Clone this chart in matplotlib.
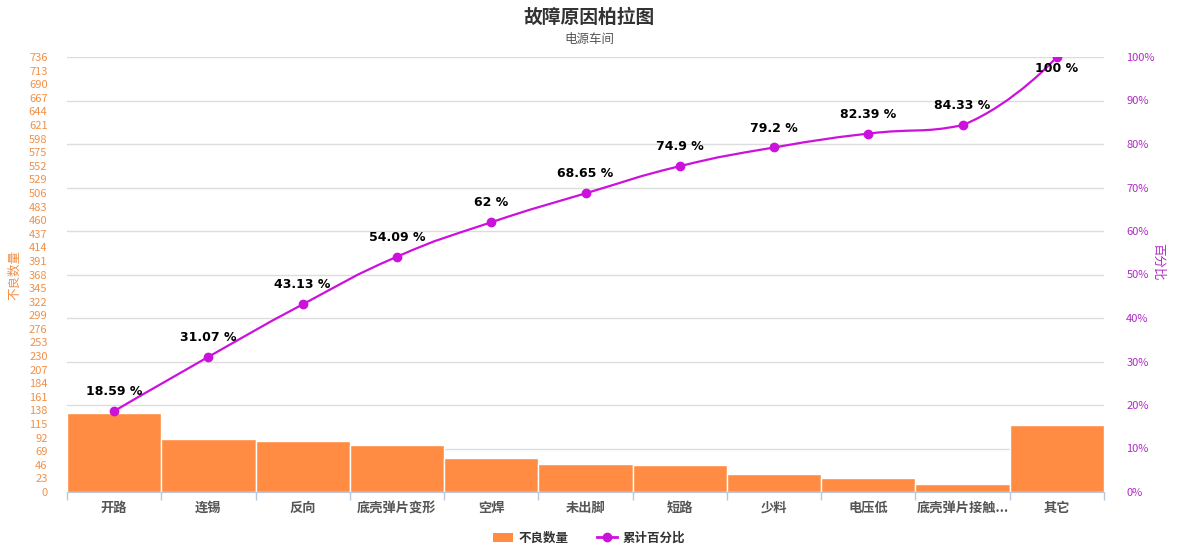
import numpy as np
import matplotlib
matplotlib.use("Agg")
import matplotlib.pyplot as plt
from matplotlib.path import Path
from matplotlib.patches import PathPatch, Patch
from matplotlib.lines import Line2D

plt.rcParams['font.family'] = ['Noto Sans CJK SC', 'DejaVu Sans']

categories = ['开路', '连锡', '反向', '底壳弹片变形', '空焊', '未出脚', '短路', '少料', '电压低', '底壳弹片接触...', '其它']
counts = [134, 90, 87, 79, 57, 48, 45, 31, 23, 14, 113]
cum_pct = [18.59, 31.07, 43.13, 54.09, 62, 68.65, 74.9, 79.2, 82.39, 84.33, 100]
left_ticks = list(range(0, 737, 23))
right_ticks = list(range(0, 101, 10))

bar_color = '#FF8C42'
line_color = '#CC11DD'
left_color = '#F0904A'
right_color = '#B028C8'
axis_color = '#B8C8D8'

fig = plt.figure(figsize=(11.78, 5.56), dpi=100)
ax = fig.add_axes([67 / 1178, 1 - 492 / 556, (1104 - 67) / 1178, (492 - 57) / 556])
ax2 = ax.twinx()

x = np.arange(len(categories))
ax.bar(x, counts, width=1.0, color=bar_color, edgecolor='white', linewidth=1, zorder=2)
ax.set_xlim(-0.5, len(categories) - 0.5)
ax.set_ylim(0, 736)
ax.set_yticks(left_ticks)
ax.tick_params(axis='y', length=0, pad=14, labelcolor=left_color, labelsize=8)
ax.set_xticks(x)
ax.set_xticklabels([])
ax.tick_params(axis='x', length=0)
# category names on a shared baseline under the axis
for xi, name in zip(x, categories):
    ax.annotate(name, (xi, 0), xycoords=('data', 'axes fraction'), xytext=(0, -14.5),
                textcoords='offset points', ha='center', va='baseline',
                fontsize=9.5, color='#555555', fontweight='bold')
ax.set_xticks(np.arange(-0.5, len(categories)), minor=True)
ax.tick_params(axis='x', which='minor', length=6, color=axis_color, width=1)
for s in ['top', 'left', 'right']:
    ax.spines[s].set_visible(False)
    ax2.spines[s].set_visible(False)
ax.spines['bottom'].set_color(axis_color)
ax2.spines['bottom'].set_visible(False)

ax2.set_ylim(0, 100)
ax2.set_yticks(right_ticks)
ax2.set_yticklabels([f'{t}%' for t in right_ticks])
ax2.tick_params(axis='y', length=0, pad=16, labelcolor=right_color, labelsize=8)
ax.set_zorder(0)
ax2.set_zorder(1)
ax.patch.set_visible(False)
ax2.patch.set_visible(False)
# grid lines follow the percentage axis, drawn under the bars
for t in right_ticks[1:]:
    ax.axhline(t / 100 * 736, color='#DDDDDD', linewidth=1, zorder=1)

ax.set_ylabel('不良数量', color=left_color, fontsize=9)
ax.yaxis.set_label_coords(-46 / 1037, 0.5)
ax2.set_ylabel('百分比', color=right_color, fontsize=9, rotation=-90)
ax2.yaxis.set_label_coords(1 + 60 / 1037, 0.53)

# smooth line through points (bezier, control points kept inside each segment)
pts = ax2.transData.transform(np.column_stack([x, cum_pct]))
smooth = 0.5
n = len(pts)
cps = []
for i in range(n):
    if i == 0 or i == n - 1:
        cps.append((pts[i].copy(), pts[i].copy()))
        continue
    v = pts[i + 1] - pts[i - 1]
    d0 = np.linalg.norm(pts[i] - pts[i - 1])
    d1 = np.linalg.norm(pts[i + 1] - pts[i])
    r = d0 / (d0 + d1)
    c0 = pts[i] - v * smooth * r
    c1 = pts[i] + v * smooth * (1 - r)
    c0[1] = np.clip(c0[1], min(pts[i - 1][1], pts[i][1]), max(pts[i - 1][1], pts[i][1]))
    c1[1] = np.clip(c1[1], min(pts[i][1], pts[i + 1][1]), max(pts[i][1], pts[i + 1][1]))
    cps.append((c0, c1))
verts = [pts[0]]
codes = [Path.MOVETO]
for i in range(n - 1):
    verts += [cps[i][1], cps[i + 1][0], pts[i + 1]]
    codes += [Path.CURVE4] * 3
verts = ax2.transData.inverted().transform(np.array(verts))
ax2.add_patch(PathPatch(Path(verts, codes), facecolor='none', edgecolor=line_color, linewidth=1.6, zorder=3))
ax2.plot(x, cum_pct, 'o', color=line_color, markersize=6, zorder=4)

for xi, p in zip(x, cum_pct):
    label = f'{p:g} %'
    dy = -8 if p >= 99 else 14
    ax2.annotate(label, (xi, p), xytext=(0, dy), textcoords='offset points', ha='center', va='center',
                 fontsize=9, fontweight='bold', color='black', family='DejaVu Sans')

fig.text(0.5, 1 - 17 / 556, '故障原因柏拉图', ha='center', va='center', fontsize=13.5, fontweight='bold', color='#333333')
fig.text(0.5, 1 - 40 / 556, '电源车间', ha='center', va='center', fontsize=9, color='#555555')

handles = [Patch(facecolor=bar_color, edgecolor='none'),
           Line2D([0], [0], color=line_color, marker='o', markersize=6, linewidth=2)]
leg = fig.legend(handles, ['不良数量', '累计百分比'], loc='center', bbox_to_anchor=(0.5, 1 - 538 / 556),
                 ncol=2, frameon=False, fontsize=9, handlelength=1.6, columnspacing=2.2, handletextpad=0.5)
for t in leg.get_texts():
    t.set_fontweight('bold')
    t.set_color('#333333')

fig.savefig('out.png', dpi=100)
